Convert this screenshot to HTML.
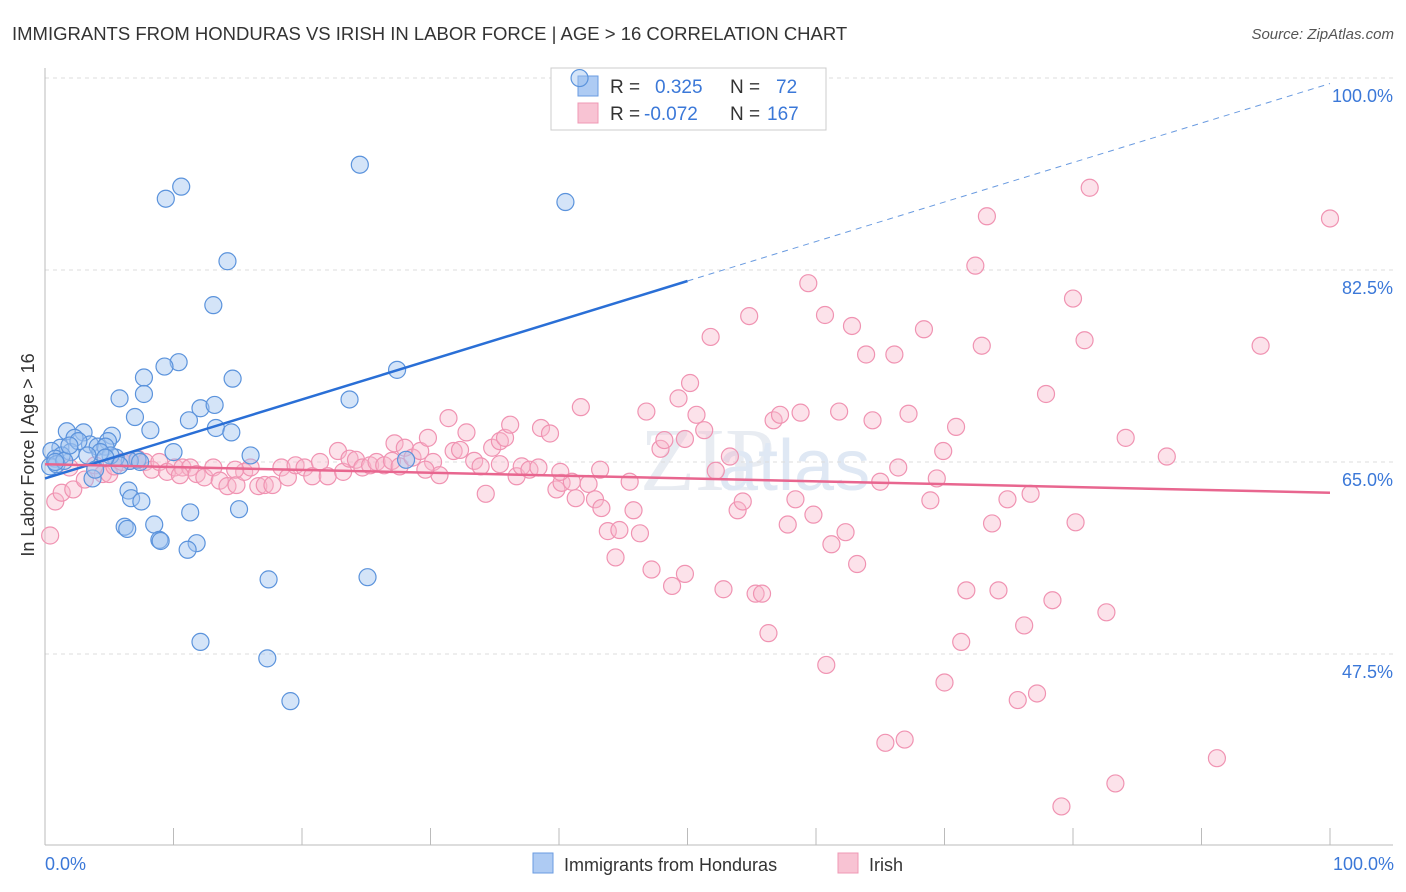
<!DOCTYPE html>
<html><head><meta charset="utf-8"><style>
body{margin:0;background:#fff;font-family:"Liberation Sans",sans-serif;}
svg{display:block}
</style></head><body>
<svg id="chart" width="1406" height="892">
<text x="12" y="40" font-size="18.5" fill="#333">IMMIGRANTS FROM HONDURAS VS IRISH IN LABOR FORCE | AGE &gt; 16 CORRELATION CHART</text>
<text x="1394" y="39" font-size="15" fill="#555" text-anchor="end" font-style="italic">Source: ZipAtlas.com</text>
<text x="640" y="490" font-size="90" fill="#e8ecf2" font-family="Liberation Serif,serif">ZIP</text>
<text x="718" y="490" font-size="72" fill="#dfe8f4">atlas</text>
<g id="grid"></g>
<g id="axes"></g>
<g>
<rect x="551" y="68" width="275" height="62" fill="#fff" stroke="#ccc"/>
<rect x="578" y="76" width="20" height="20" fill="#aecbf3" stroke="#6a9be0"/>
<rect x="578" y="103" width="20" height="20" fill="#f8c3d3" stroke="#ef98b5"/>
<text x="610" y="93" font-size="19" fill="#333">R =</text><text x="655" y="93" font-size="19" fill="#3b78d8">0.325</text>
<text x="730" y="93" font-size="19" fill="#333">N =</text><text x="776" y="93" font-size="19" fill="#3b78d8">72</text>
<text x="610" y="120" font-size="19" fill="#333">R =</text><text x="644" y="120" font-size="19" fill="#3b78d8">-0.072</text>
<text x="730" y="120" font-size="19" fill="#333">N =</text><text x="767" y="120" font-size="19" fill="#3b78d8">167</text>
</g>
<g id="pts"></g>
<g id="trends"></g>
<text transform="translate(34,455) rotate(-90)" font-size="18" fill="#333" text-anchor="middle">In Labor Force | Age &gt; 16</text>
<text x="45" y="870" font-size="18" fill="#3b78d8">0.0%</text>
<text x="1394" y="870" font-size="18" fill="#3b78d8" text-anchor="end">100.0%</text>
<g>
<rect x="533" y="853" width="20" height="20" fill="#aecbf3" stroke="#6a9be0"/>
<text x="564" y="871" font-size="18" fill="#333">Immigrants from Honduras</text>
<rect x="838" y="853" width="20" height="20" fill="#f8c3d3" stroke="#ef98b5"/>
<text x="869" y="871" font-size="18" fill="#333">Irish</text>
</g>
</svg>
<script>
const yTicks=[100,82.5,65,47.5];
const yTickLabels=["100.0%","82.5%","65.0%","47.5%"];
const xTicks=[0,10,20,30,40,50,60,70,80,90,100];
const blueX=[41.6,24.5,10.6,9.4,40.5,14.2,13.1,10.4,9.3,27.4,7.7,14.6,7.7,5.8,23.7,12.1,13.2,11.2,7.0,8.2,13.3,14.5,1.7,3.0,5.2,2.3,4.9,3.5,1.2,0.5,2.0,4.1,4.7,1.3,0.8,0.4,0.9,10.0,16.0,7.2,6.6,5.5,28.1,3.7,6.5,6.7,7.5,15.1,11.3,8.5,6.2,6.4,8.9,9.0,11.8,11.1,17.4,25.1,12.1,17.3,19.1,5.1,4.3,3.3,1.5,0.8,7.4,5.8,3.9,2.6,4.7,1.9];
const blueY=[100.0,92.1,90.1,89.0,88.7,83.3,79.3,74.1,73.7,73.4,72.7,72.6,71.2,70.8,70.7,69.9,70.2,68.8,69.1,67.9,68.1,67.7,67.8,67.7,67.4,67.2,66.9,66.6,66.3,66.0,65.9,66.4,66.4,65.6,65.3,64.6,64.8,65.9,65.6,65.2,65.1,65.4,65.2,63.5,62.4,61.7,61.4,60.7,60.4,59.3,59.1,58.9,57.9,57.8,57.6,57.0,54.3,54.5,48.6,47.1,43.2,65.6,65.9,65.6,65.1,65.0,65.0,64.7,64.3,66.9,65.4,66.5];
const pinkX=[0.4,0.8,1.3,2.2,3.1,3.9,4.5,5.0,5.4,6.0,6.6,7.2,7.8,8.3,8.9,9.5,10.1,10.7,11.3,11.8,12.4,13.1,13.6,14.2,14.9,15.5,16.0,16.6,17.1,17.7,18.4,18.9,19.5,20.2,20.8,21.4,22.0,22.8,23.2,23.7,24.2,24.7,25.3,25.8,26.4,27.0,27.6,27.2,28.0,28.6,29.2,29.8,30.2,30.7,31.4,31.8,32.3,32.8,33.4,33.9,34.3,34.8,35.4,35.8,36.2,36.7,37.1,37.7,38.4,38.6,39.3,39.8,40.2,41.0,41.3,41.7,42.3,42.8,43.3,43.8,44.4,44.7,45.5,45.8,46.3,46.8,47.2,47.9,48.2,48.8,49.3,49.8,50.2,50.7,51.3,51.8,52.2,52.8,53.3,53.9,54.3,54.8,55.3,55.8,56.3,56.7,57.2,57.8,58.4,58.8,59.4,59.8,60.7,60.8,61.2,61.8,62.3,62.8,63.2,63.9,64.4,65.0,65.4,66.1,66.4,66.9,67.2,68.4,68.9,69.4,69.9,70.0,70.9,71.3,71.7,72.4,72.9,73.3,73.7,74.2,74.9,75.7,76.2,76.7,77.2,77.9,78.4,79.1,80.0,80.2,80.9,81.3,82.6,83.3,84.1,87.3,91.2,94.6,100.0,49.8,35.4,43.2,40.1,29.6,14.8,10.5,1.9];
const pinkY=[58.3,61.4,62.2,62.5,63.4,64.7,63.9,63.9,64.6,65.0,65.1,65.3,65.0,64.3,65.0,64.1,64.5,64.5,64.5,63.9,63.6,64.5,63.3,62.8,62.9,64.1,64.5,62.8,62.9,62.9,64.5,63.6,64.7,64.5,63.7,65.0,63.7,66.0,64.1,65.3,65.2,64.5,64.7,65.0,64.7,65.1,64.6,66.7,66.3,65.4,66.0,67.2,65.0,63.8,69.0,66.0,66.1,67.7,65.1,64.6,62.1,66.3,66.9,67.2,68.4,63.7,64.6,64.3,64.5,68.1,67.6,62.5,63.1,63.2,61.7,70.0,63.0,61.6,60.8,58.7,56.3,58.8,63.2,60.6,58.5,69.6,55.2,66.2,67.0,53.7,70.8,54.8,72.2,69.3,67.9,76.4,64.2,53.4,65.5,60.6,61.4,78.3,53.0,53.0,49.4,68.8,69.3,59.3,61.6,69.5,81.3,60.2,78.4,46.5,57.5,69.6,58.6,77.4,55.7,74.8,68.8,63.2,39.4,74.8,64.5,39.7,69.4,77.1,61.5,63.5,66.0,44.9,68.2,48.6,53.3,82.9,75.6,87.4,59.4,53.3,61.6,43.3,50.1,62.1,43.9,71.2,52.4,33.6,79.9,59.5,76.1,90.0,51.3,35.7,67.2,65.5,38.0,75.6,87.2,67.1,64.8,64.3,64.1,64.3,64.3,63.8,64.5];
const blueTrend=[63.5,81.5];   // y at x=0 and x=50
const pinkTrend=[64.8,62.2];   // y at x=0 and x=100
const NS="http://www.w3.org/2000/svg";
const X0=45,X1=1330;
function sx(v){return X0+(X1-X0)*v/100;}
function sy(v){return 462-(v-65)*10.97;}
function mk(tag,attrs,parent){const e=document.createElementNS(NS,tag);for(const k in attrs)e.setAttribute(k,attrs[k]);parent.appendChild(e);return e;}
const grid=document.getElementById('grid'),axes=document.getElementById('axes'),pts=document.getElementById('pts'),tr=document.getElementById('trends');
yTicks.forEach((t,i)=>{
  const l=mk('line',{x1:X0,x2:1393,y1:sy(t),y2:sy(t),stroke:'#dcdcdc','stroke-dasharray':'4,4'},grid);
  
  
  const tx=mk('text',{x:1393,y:sy(t)+24,'font-size':18,fill:'#3b78d8','text-anchor':'end'},grid);
  tx.textContent=yTickLabels[i];
  
  
});
const ax=mk('line',{x1:X0,x2:1393,y1:845,y2:845,stroke:'#bbb'},axes);


const ay=mk('line',{x1:X0,x2:X0,y1:68,y2:845,stroke:'#bbb'},axes);


xTicks.forEach(t=>{
  const l=mk('line',{x1:sx(t),x2:sx(t),y1:828,y2:845,stroke:'#bbb'},axes);
  
  
});
pinkX.forEach((v,i)=>{
  const c=mk('circle',{cx:sx(v),cy:sy(pinkY[i]),r:8.5,fill:'rgba(248,182,202,0.4)',stroke:'#f093b2','stroke-width':1.2},pts);
  
  
});
blueX.forEach((v,i)=>{
  const c=mk('circle',{cx:sx(v),cy:sy(blueY[i]),r:8.5,fill:'rgba(160,195,240,0.45)',stroke:'#5b93dc','stroke-width':1.2},pts);
  
  
});
const slope=(blueTrend[1]-blueTrend[0])/50;
const b1=mk('line',{x1:sx(0),y1:sy(blueTrend[0]),x2:sx(50),y2:sy(blueTrend[1]),stroke:'#2a6fd6','stroke-width':2.5},tr);


const b2=mk('line',{x1:sx(50),y1:sy(blueTrend[1]),x2:sx(100),y2:sy(blueTrend[0]+slope*100),stroke:'#6a9be0','stroke-width':1,'stroke-dasharray':'6,5'},tr);


const p1=mk('line',{x1:sx(0),y1:sy(pinkTrend[0]),x2:sx(100),y2:sy(pinkTrend[1]),stroke:'#e8668f','stroke-width':2.5},tr);


</script>
</body></html>
